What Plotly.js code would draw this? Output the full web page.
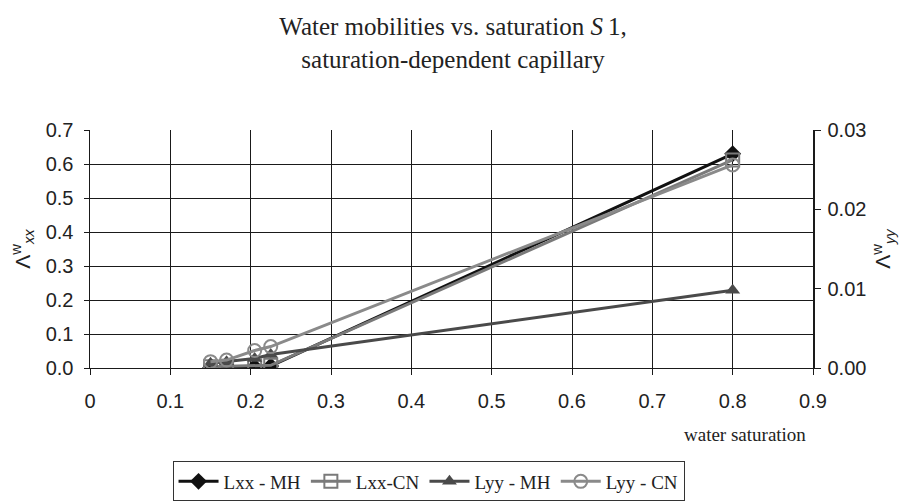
<!DOCTYPE html>
<html>
<head>
<meta charset="utf-8">
<script src="https://cdn.plot.ly/plotly-3.0.1.min.js"></script>
<style>html,body{margin:0;padding:0;background:#fff;}</style>
</head>
<body>
<div id="chart" style="width:906px;height:503px;"></div>
<script>
// Data
const saturation = [0.15, 0.17, 0.205, 0.225, 0.8];
const lxxMH = [0.001, 0.002, 0.003, 0.006, 0.63];
const lxxCN = [0.004, 0.005, 0.006, 0.008, 0.612];
const lyyMH = [0.0006, 0.0008, 0.0012, 0.0017, 0.0098];
const lyyCN = [0.0008, 0.0010, 0.0022, 0.0027, 0.0256];
const seriesNames = ["Lxx - MH", "Lxx-CN", "Lyy - MH", "Lyy - CN"];
const xTicks = [0, 0.1, 0.2, 0.3, 0.4, 0.5, 0.6, 0.7, 0.8, 0.9];
const yTicks = [0, 0.1, 0.2, 0.3, 0.4, 0.5, 0.6, 0.7];
const y2Ticks = [0, 0.01, 0.02, 0.03];

const traces = [
  {x: saturation, y: lxxMH, name: seriesNames[0], mode: "lines+markers", yaxis: "y",
   line: {color: "#111", width: 3},
   marker: {symbol: "diamond", size: 13, color: "#111"}},
  {x: saturation, y: lxxCN, name: seriesNames[1], mode: "lines+markers", yaxis: "y",
   line: {color: "#7a7a7a", width: 3},
   marker: {symbol: "square-open", size: 13, color: "#7a7a7a", line: {width: 2}}},
  {x: saturation, y: lyyMH, name: seriesNames[2], mode: "lines+markers", yaxis: "y2",
   line: {color: "#4a4a4a", width: 3},
   marker: {symbol: "triangle-up", size: 13, color: "#4a4a4a"}},
  {x: saturation, y: lyyCN, name: seriesNames[3], mode: "lines+markers", yaxis: "y2",
   line: {color: "#8a8a8a", width: 3},
   marker: {symbol: "circle-open", size: 13, color: "#8a8a8a", line: {width: 2}}}
];

const sans = "Liberation Sans, Arial, sans-serif";
const serif = "Liberation Serif, Times New Roman, serif";
const tickFont = {family: sans, size: 20, color: "#222"};

const layout = {
  width: 906, height: 503,
  paper_bgcolor: "#fff", plot_bgcolor: "#fff",
  margin: {l: 90, r: 93, t: 130, b: 135},
  title: {
    text: "Water mobilities vs. saturation <i>S</i>\u20091,<br>saturation-dependent capillary",
    font: {family: serif, size: 25, color: "#222"},
    x: 0.5, xanchor: "center", yref: "container", y: 0.93, yanchor: "top"
  },
  xaxis: {
    range: [0, 0.9], tickvals: xTicks, ticktext: xTicks.map(v => v === 0 ? "0" : v.toFixed(1)),
    showgrid: true, gridcolor: "#1a1a1a", gridwidth: 1,
    showline: true, linecolor: "#1a1a1a", linewidth: 1.3,
    zeroline: false, ticks: "outside", ticklen: 6, tickcolor: "#1a1a1a",
    ticklabelstandoff: 9,
    tickfont: tickFont, automargin: false
  },
  yaxis: {
    range: [0, 0.7], tickvals: yTicks, ticktext: yTicks.map(v => v.toFixed(1)),
    showgrid: true, gridcolor: "#1a1a1a", gridwidth: 1,
    showline: true, linecolor: "#1a1a1a", linewidth: 1.5,
    zeroline: false, ticks: "outside", ticklen: 5, tickcolor: "#1a1a1a",
    ticklabelstandoff: 6,
    tickfont: tickFont, automargin: false,
    title: {text: "\u039B<sup>w</sup><sub><i>xx</i></sub>", font: {family: sans, size: 21, color: "#222"}, standoff: 9}
  },
  yaxis2: {
    overlaying: "y", side: "right", anchor: "x",
    range: [0, 0.03], tickvals: y2Ticks, ticktext: y2Ticks.map(v => v.toFixed(2)),
    showgrid: false, showline: true, linecolor: "#1a1a1a", linewidth: 1.5,
    zeroline: false, ticks: "outside", ticklen: 6, tickcolor: "#1a1a1a",
    ticklabelstandoff: 3,
    tickfont: tickFont, automargin: false,
    title: {text: "\u039B<sup>w</sup><sub><i>yy</i></sub>", font: {family: sans, size: 21, color: "#222"}, standoff: 10}
  },
  showlegend: true,
  legend: {
    orientation: "h", x: 0.473, xanchor: "center", xref: "container",
    yref: "container", y: 0.003, yanchor: "bottom",
    bordercolor: "#333", borderwidth: 1, bgcolor: "#fff",
    font: {family: serif, size: 19, color: "#222"},
    itemwidth: 40, tracegroupgap: 0
  },
  annotations: [{
    text: "water saturation", xref: "paper", yref: "paper",
    x: 0.993, y: -0.225, xanchor: "right", yanchor: "top", showarrow: false,
    font: {family: serif, size: 19, color: "#222"}
  }]
};

Plotly.newPlot("chart", traces, layout, {displayModeBar: false, staticPlot: true});
</script>
</body>
</html>
